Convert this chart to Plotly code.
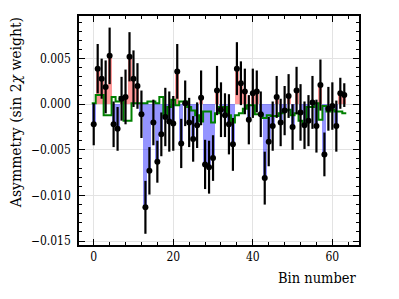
import plotly.graph_objects as go

bins = list(range(64))
asym = [
    -0.0022, 0.0039, 0.0028, 0.0019, 0.0053, -0.0022, -0.0027, 0.0006, 0.0008, 0.0052,
    0.0028, 0.0020, -0.0011, -0.0113, -0.0073, -0.0020, -0.0063, -0.0033, -0.0014, -0.0019,
    -0.0021, 0.0036, -0.0043, 0.0001, -0.0020, -0.0038, -0.0023, 0.0007, -0.0066, -0.0069,
    -0.0059, 0.0015, -0.0006, -0.0012, -0.0022, -0.0044, 0.0039, 0.0023, 0.0014, -0.0017,
    0.0012, 0.0014, -0.0011, -0.0081, -0.0041, -0.0024, 0.0008, -0.0020, -0.0007, 0.0009,
    -0.0025, 0.0015, -0.0009, -0.0023, -0.0018, 0.0002, -0.0024, 0.0021, -0.0055, -0.0005,
    -0.0002, -0.0024, 0.0012, 0.0010,
]
asym_err = [
    0.0023, 0.0027, 0.0022, 0.0029, 0.0031, 0.0025, 0.0024, 0.0024, 0.0030, 0.0027,
    0.0031, 0.0025, 0.0026, 0.0029, 0.0026, 0.0025, 0.0023, 0.0024, 0.0032, 0.0033,
    0.0030, 0.0030, 0.0027, 0.0025, 0.0027, 0.0025, 0.0025, 0.0030, 0.0027, 0.0029,
    0.0025, 0.0027, 0.0030, 0.0024, 0.0033, 0.0029, 0.0029, 0.0024, 0.0025, 0.0027,
    0.0027, 0.0023, 0.0025, 0.0029, 0.0027, 0.0027, 0.0023, 0.0026, 0.0027, 0.0024,
    0.0025, 0.0026, 0.0031, 0.0026, 0.0028, 0.0029, 0.0029, 0.0028, 0.0024, 0.0024,
    0.0026, 0.0028, 0.0017, 0.0013,
]
# model expectation (green step line)
model = [
    0.0001, 0.0010, 0.0010, -0.0012, -0.0012, 0.0008, 0.0003, 0.0008, -0.0018, -0.0018,
    0.0001, 0.0001, 0.0001, 0.0001, 0.0003, 0.0003, 0.0001, 0.0008, -0.0012, -0.0003,
    0.0005, -0.0001, 0.0003, 0.0003, -0.0003, -0.0007, -0.0012, -0.0019, -0.0008, -0.0008,
    -0.0020, -0.0010, -0.0003, -0.0003, -0.0012, -0.0020, -0.0012, -0.0010, -0.0005, -0.0001,
    -0.0001, -0.0011, -0.0011, -0.0015, -0.0012, -0.0013, -0.0013, -0.0010, -0.0007, -0.0006,
    -0.0012, -0.0010, -0.0018, -0.0022, -0.0003, -0.0003, 0.0001, -0.0017, -0.0002, -0.0008,
    -0.0006, -0.0008, -0.0008, -0.0010,
]

FONT = "DejaVu Serif Condensed, DejaVu Serif"

bar_colors = ["rgba(255,0,0,0.4)" if v >= 0 else "rgba(0,0,255,0.42)" for v in asym]

# step edges for the model line
edges = [b - 0.5 for b in bins] + [bins[-1] + 0.5]
step_y = model + [model[-1]]

fig = go.Figure()
fig.add_trace(go.Bar(x=bins, y=asym, width=1, marker=dict(color=bar_colors, line=dict(width=0)),
                     showlegend=False))
fig.add_trace(go.Scatter(x=edges, y=step_y, mode="lines", line=dict(color="#008000", width=2, shape="hv"),
                         showlegend=False))
fig.add_trace(go.Scatter(x=bins, y=asym, mode="markers",
                         marker=dict(color="black", size=6),
                         error_y=dict(type="data", array=asym_err, color="black", thickness=2.2, width=0),
                         showlegend=False))

axis_common = dict(
    ticks="inside", ticklen=6, tickwidth=1, tickcolor="black",
    showline=True, linecolor="black", linewidth=1.5, mirror="ticks",
    showgrid=True, gridcolor="#e3e3e3", gridwidth=1, zeroline=False,
    tickfont=dict(family=FONT, size=12, color="black"),
)

# page body has an 8px margin, so the figure is shifted left/up by that much
fig.update_layout(
    width=383, height=283,
    margin=dict(l=71, r=32, t=6, b=46),
    plot_bgcolor="white", paper_bgcolor="white",
    bargap=0,
    font=dict(family=FONT),
    xaxis=dict(range=[-3.7, 66.7], tickvals=[0, 20, 40, 60],
               minor=dict(ticks="inside", ticklen=3, tickcolor="black", dtick=4, tick0=0, showgrid=False),
               **axis_common),
    yaxis=dict(range=[-0.01543, 0.00967], tickvals=[-0.015, -0.010, -0.005, 0.0, 0.005],
               tickformat=".3f", ticklabelstandoff=4,
               minor=dict(ticks="inside", ticklen=3, tickcolor="black", dtick=0.001, tick0=0, showgrid=False),
               **axis_common),
    annotations=[
        dict(text="Bin number", x=1, y=-0.1, xref="paper", yref="paper",
             xanchor="right", yanchor="top", showarrow=False,
             font=dict(family=FONT, size=14.5, color="black")),
        dict(text="Asymmetry (sin 2<i>χ</i> weight)", x=-0.222, y=1.005, xref="paper", yref="paper",
             xanchor="center", yanchor="top", textangle=-90, showarrow=False,
             font=dict(family=FONT, size=15.5, color="black")),
    ],
)

fig.write_html("out.html")
